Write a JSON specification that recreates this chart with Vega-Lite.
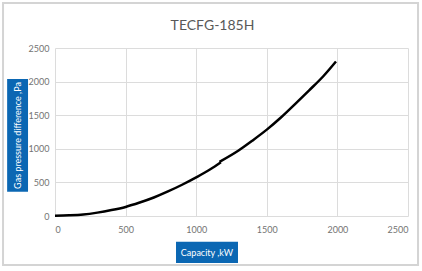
{
  "$schema": "https://vega.github.io/schema/vega-lite/v6.json",
  "autosize": "none",
  "width": 353,
  "height": 168,
  "padding": {"left": 55, "top": 48, "right": 14, "bottom": 55},
  "background": "white",
  "title": {"text": "TECFG-185H", "anchor": "middle", "frame": "group", "dx": -19, "dy": 1, "offset": -30, "fontSize": 14, "font": "Lato", "fontWeight": "normal", "color": "#595959"},
  "config": {
    "view": {"stroke": null},
    "axis": {"labelFont": "Lato", "labelFontSize": 9, "labelColor": "#737373", "grid": true, "gridColor": "#dcdcdc", "gridWidth": 1, "ticks": false, "domain": false, "labelOverlap": false, "format": "d", "title": null, "values": [0, 500, 1000, 1500, 2000, 2500]},
    "axisX": {"labelPadding": 9},
    "axisY": {"labelPadding": 6}
  },
  "data": {"values": [{"one": 1}]},
  "datasets": {
    "curve": [
      {"capacity": 0, "pressure": 5, "segment": "a"},
      {"capacity": 100, "pressure": 10, "segment": "a"},
      {"capacity": 200, "pressure": 22, "segment": "a"},
      {"capacity": 300, "pressure": 50, "segment": "a"},
      {"capacity": 400, "pressure": 88, "segment": "a"},
      {"capacity": 500, "pressure": 135, "segment": "a"},
      {"capacity": 600, "pressure": 200, "segment": "a"},
      {"capacity": 700, "pressure": 275, "segment": "a"},
      {"capacity": 800, "pressure": 365, "segment": "a"},
      {"capacity": 900, "pressure": 465, "segment": "a"},
      {"capacity": 1000, "pressure": 575, "segment": "a"},
      {"capacity": 1100, "pressure": 695, "segment": "a"},
      {"capacity": 1175, "pressure": 800, "segment": "a"},
      {"capacity": 1165, "pressure": 806, "segment": "b"},
      {"capacity": 1300, "pressure": 975, "segment": "b"},
      {"capacity": 1400, "pressure": 1125, "segment": "b"},
      {"capacity": 1500, "pressure": 1285, "segment": "b"},
      {"capacity": 1600, "pressure": 1465, "segment": "b"},
      {"capacity": 1700, "pressure": 1665, "segment": "b"},
      {"capacity": 1800, "pressure": 1870, "segment": "b"},
      {"capacity": 1900, "pressure": 2080, "segment": "b"},
      {"capacity": 1990, "pressure": 2300, "segment": "b"}
    ]
  },
  "layer": [
    {
      "data": {"name": "curve"},
      "mark": {"type": "line", "color": "black", "strokeWidth": 2.5, "interpolate": "monotone"},
      "encoding": {
        "x": {"field": "capacity", "type": "quantitative", "scale": {"domain": [0, 2500], "nice": false}, "axis": {"values": [0, 500, 1000, 1500, 2000, 2500], "title": null}},
        "y": {"field": "pressure", "type": "quantitative", "scale": {"domain": [0, 2500], "nice": false}, "axis": {"values": [0, 500, 1000, 1500, 2000, 2500], "title": null}},
        "detail": {"field": "segment"}
      }
    },
    {
      "mark": {"type": "rect", "fill": null, "stroke": "#d4d4d4", "strokeWidth": 2, "clip": false},
      "encoding": {
        "x": {"datum": -368, "type": "quantitative", "axis": {"values": [0, 500, 1000, 1500, 2000, 2500], "title": null}},
        "x2": {"datum": 2571},
        "y": {"datum": 3170, "type": "quantitative", "axis": {"values": [0, 500, 1000, 1500, 2000, 2500], "title": null}},
        "y2": {"datum": -729}
      }
    },
    {
      "mark": {"type": "rect", "fill": "#0b67b3", "clip": false},
      "encoding": {
        "x": {"datum": -339, "type": "quantitative", "axis": {"values": [0, 500, 1000, 1500, 2000, 2500], "title": null}},
        "x2": {"datum": -191},
        "y": {"datum": 2039, "type": "quantitative", "axis": {"values": [0, 500, 1000, 1500, 2000, 2500], "title": null}},
        "y2": {"datum": 362}
      }
    },
    {
      "mark": {"type": "rect", "fill": "#0b67b3", "clip": false},
      "encoding": {
        "x": {"datum": 857, "type": "quantitative", "axis": {"values": [0, 500, 1000, 1500, 2000, 2500], "title": null}},
        "x2": {"datum": 1296},
        "y": {"datum": -382, "type": "quantitative", "axis": {"values": [0, 500, 1000, 1500, 2000, 2500], "title": null}},
        "y2": {"datum": -700}
      }
    },
    {
      "mark": {"type": "text", "color": "white", "font": "Lato", "fontSize": 9, "angle": 270, "align": "center", "baseline": "middle"},
      "encoding": {
        "x": {"datum": -265, "type": "quantitative", "axis": {"values": [0, 500, 1000, 1500, 2000, 2500], "title": null}},
        "y": {"datum": 1198, "type": "quantitative", "axis": {"values": [0, 500, 1000, 1500, 2000, 2500], "title": null}},
        "text": {"value": "Gas pressure difference ,Pa"}
      }
    },
    {
      "mark": {"type": "text", "color": "white", "font": "Lato", "fontSize": 9, "align": "center", "baseline": "middle"},
      "encoding": {
        "x": {"datum": 1076, "type": "quantitative", "axis": {"values": [0, 500, 1000, 1500, 2000, 2500], "title": null}},
        "y": {"datum": -545, "type": "quantitative", "axis": {"values": [0, 500, 1000, 1500, 2000, 2500], "title": null}},
        "text": {"value": "Capacity ,kW"}
      }
    }
  ]
}
